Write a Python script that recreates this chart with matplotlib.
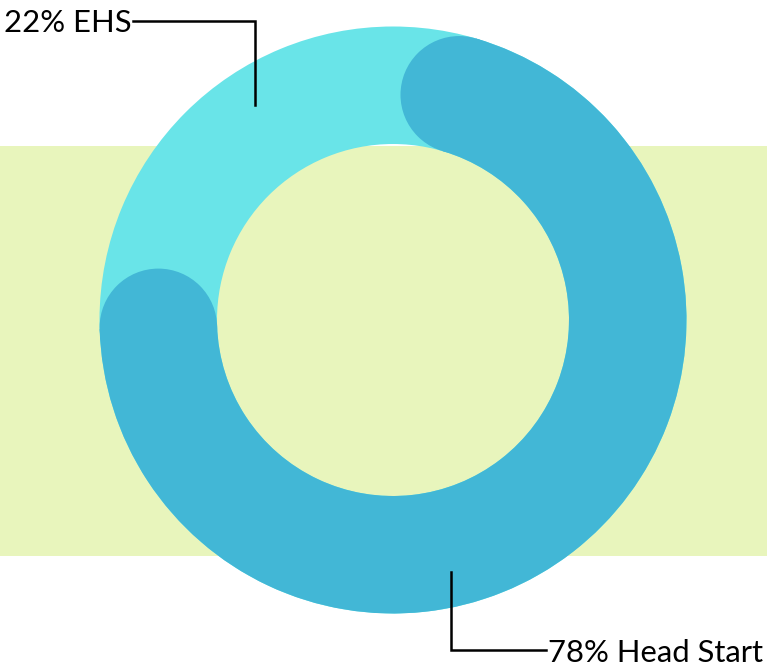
import numpy as np
import matplotlib
matplotlib.use("Agg")
import matplotlib.pyplot as plt
from matplotlib.patches import Wedge, Circle, Rectangle

# Data
labels = ["EHS", "Head Start"]
shares = [22, 78]
colors = ["#69E4E8", "#42B7D6"]

# Layout in pixel coordinates (y up)
W, H = 767, 666
cx, cy = 393, H - 320
R_out, R_in = 293.5, 176
R_mid = (R_out + R_in) / 2
cap_r = (R_out - R_in) / 2
cap_deg = np.degrees(np.arcsin(cap_r / R_mid))

fig = plt.figure(figsize=(W / 100, H / 100), dpi=100)
ax = fig.add_axes([0, 0, 1, 1])
ax.set_xlim(0, W)
ax.set_ylim(0, H)
ax.set_aspect("equal")
ax.axis("off")

# green band behind the donut
ax.add_patch(Rectangle((0, H - 555.5), W, 555.5 - 145.5, color="#E8F5BC", lw=0, zorder=0))

# full ring = EHS colour
ax.add_patch(Wedge((cx, cy), R_out, 0, 360, width=R_out - R_in, color=colors[0], lw=0, zorder=1))

# Head Start arc with rounded ends, visual extent = share of circle
span = shares[1] / sum(shares) * 360
start = 167.3
a0 = start + cap_deg
a1 = start + span - cap_deg
ax.add_patch(Wedge((cx, cy), R_out, a0, a1, width=R_out - R_in, color=colors[1], lw=0, zorder=2))
for a in (a0, a1):
    t = np.radians(a)
    ax.add_patch(Circle((cx + R_mid * np.cos(t), cy + R_mid * np.sin(t)), cap_r,
                        color=colors[1], lw=0, zorder=2))

plt.rcParams["font.family"] = ["Lato", "DejaVu Sans"]
fs = 22.3

# EHS label + leader
ax.plot([133, 254.5, 254.5], [H - 20.7, H - 20.7, H - 105], color="black", lw=1.8, zorder=3,
        solid_joinstyle="miter")
ax.text(4, H - 20.5, f"{shares[0]}% {labels[0]}", fontsize=fs, va="center_baseline", ha="left",
        color="black")

# Head Start label + leader
ax.plot([450.5, 450.5, 546], [H - 572, H - 650, H - 650], color="black", lw=1.8, zorder=3,
        solid_joinstyle="miter")
ax.text(548, H - 650, f"{shares[1]}% {labels[1]}", fontsize=fs, va="center_baseline", ha="left",
        color="black")

plt.savefig("out.png", dpi=100)
